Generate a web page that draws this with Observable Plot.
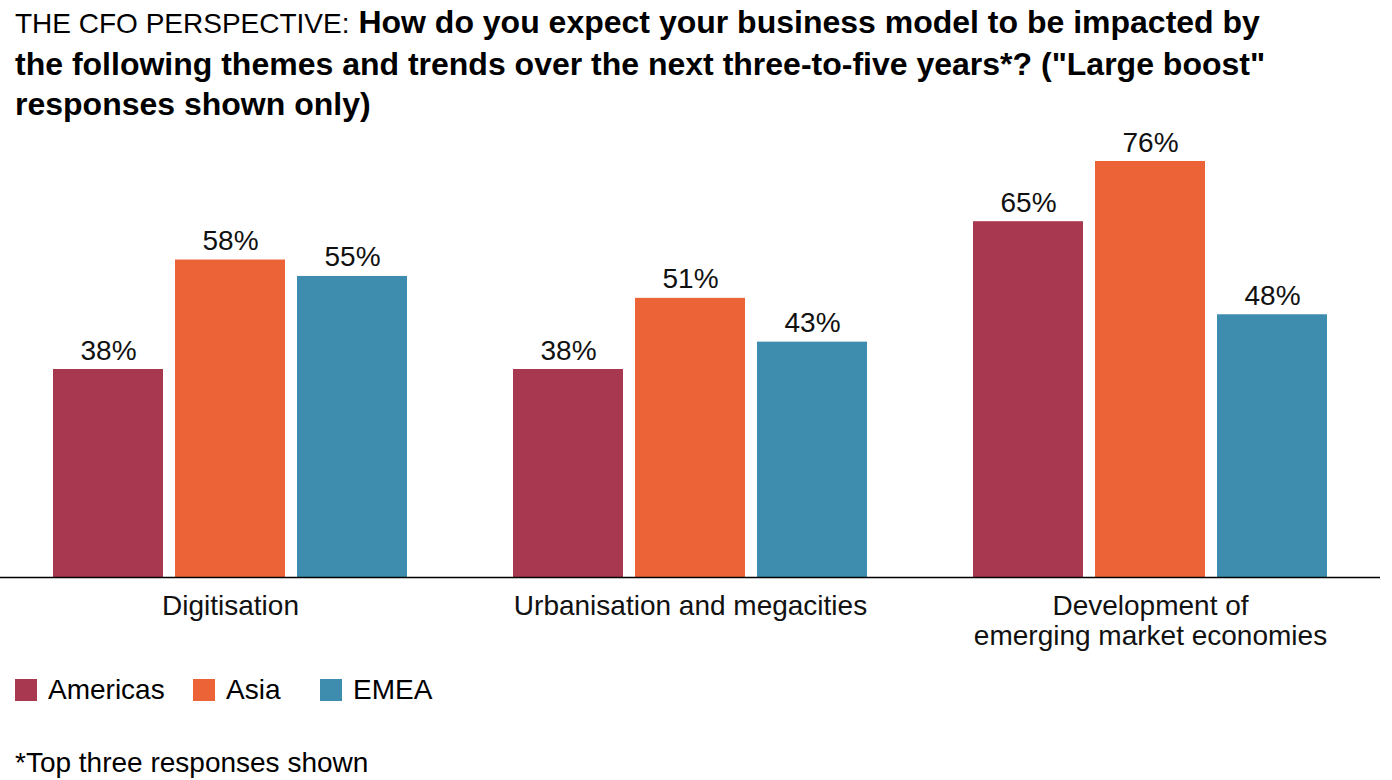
<!DOCTYPE html>
<html>
<head>
<meta charset="utf-8">
<script src="https://cdn.jsdelivr.net/npm/d3@7"></script>
<script src="https://cdn.jsdelivr.net/npm/@observablehq/plot@0.6"></script>
<style>
  html, body { margin: 0; padding: 0; background: #fff; }
  body { width: 1392px; height: 780px; position: relative; overflow: hidden; font-family: "Liberation Sans", Arial, sans-serif; color: #000; }
  #title { position: absolute; left: 15px; top: 2px; width: 1370px; font-size: 32px; line-height: 40px; white-space: nowrap; }
  #title .light { font-weight: normal; font-size: 28px; }
  #title .bold { font-weight: bold; }
  #chart { position: absolute; left: 0; top: 120px; }
  #legend { position: absolute; left: 15px; top: 674px; display: flex; align-items: center; font-size: 28px; }
  #legend .item { display: flex; align-items: center; }
  #legend .sw { width: 22px; height: 22px; margin-right: 11px; }
  #note { position: absolute; left: 15px; top: 746px; font-size: 28px; line-height: 34px; }
</style>
</head>
<body>
<div id="title"></div>
<div id="chart"></div>
<div id="legend"></div>
<div id="note"></div>
<script>
// ---- data ----
const titleLead = "THE CFO PERSPECTIVE:";
const titleLines = [
  "How do you expect your business model to be impacted by",
  "the following themes and trends over the next three-to-five years*? (\"Large boost\"",
  "responses shown only)"
];
const themes = ["Digitisation", "Urbanisation and megacities", "Development of\nemerging market economies"];
const regions = ["Americas", "Asia", "EMEA"];
const americas = [38, 38, 65];
const asia = [58, 51, 76];
const emea = [55, 43, 48];
const colors = ["#A83750", "#EC6337", "#3E8DAF"];
const footnote = "*Top three responses shown";

// ---- build table ----
const series = [americas, asia, emea];
const rows = [];
themes.forEach((t, i) => regions.forEach((r, j) => rows.push({theme: t, region: r, value: series[j][i]})));

document.getElementById("title").innerHTML =
  `<span class="light">${titleLead}</span> <span class="bold">${titleLines[0]}</span><br>` +
  titleLines.slice(1).map(l => `<span class="bold">${l}</span>`).join("<br>");

const chart = Plot.plot({
  width: 1392,
  height: 537,
  marginLeft: 0,
  marginRight: 12,
  marginTop: 41,
  marginBottom: 80,
  style: {fontFamily: "'Liberation Sans', Arial, sans-serif", background: "transparent"},
  fx: {domain: themes, padding: 0, axis: null},
  x: {domain: regions, paddingInner: 0.102, paddingOuter: 0.428, axis: null},
  y: {domain: [0, 76], axis: null},
  color: {domain: regions, range: colors},
  marks: [
    Plot.barY(rows, {fx: "theme", x: "region", y: "value", fill: "region"}),
    Plot.text(rows, {fx: "theme", x: "region", y: "value", text: d => d.value + "%", lineAnchor: "bottom", dy: -10, fontSize: 28, fill: "#111"}),
    Plot.ruleY([0], {stroke: "#000", strokeWidth: 1.5}),
    Plot.text(themes, {fx: d => d, text: d => d, frameAnchor: "bottom", lineAnchor: "top", dy: 16, fontSize: 28, lineHeight: 1.07, fill: "#111"})
  ]
});
document.getElementById("chart").appendChild(chart);

const legend = document.getElementById("legend");
const itemWidths = [178, 127, 140];
regions.forEach((r, i) => {
  const it = document.createElement("div");
  it.className = "item";
  it.style.width = itemWidths[i] + "px";
  it.innerHTML = `<div class="sw" style="background:${colors[i]}"></div><span>${r}</span>`;
  legend.appendChild(it);
});
document.getElementById("note").textContent = footnote;
</script>
</body>
</html>
